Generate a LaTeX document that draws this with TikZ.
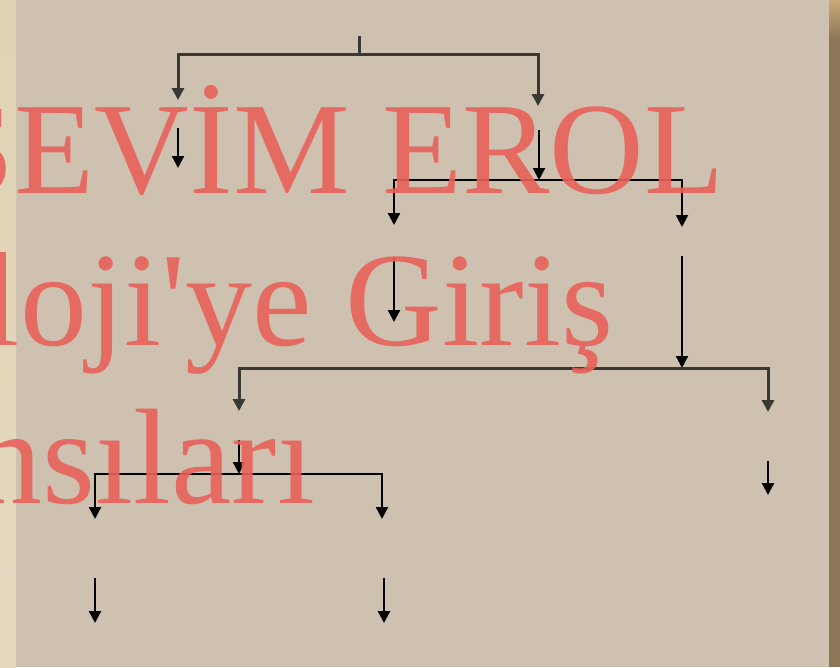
\documentclass[tikz,border=0pt]{standalone}
\usepackage{fontspec}
\setmainfont{Liberation Serif}
\usetikzlibrary{arrows.meta}
\definecolor{slidebg}{HTML}{CEC1B0}
\definecolor{leftedge}{HTML}{E0D3B4}
\definecolor{rightedge}{HTML}{8C7658}
\definecolor{rightedgetop}{HTML}{C8A878}
\definecolor{treegray}{HTML}{3A3835}
\definecolor{titlered}{HTML}{E8615A}
\tikzset{
  thickline/.style={line width=3pt, draw=treegray},
  thinline/.style={line width=2.3pt, draw=black},
  arr/.style={-{Triangle[length=12pt,width=12pt]}},
  titletext/.style={anchor=base west, inner sep=0pt, outer sep=0pt,
    text=titlered, text opacity=0.9}
}
\begin{document}
\begin{tikzpicture}[x=1pt, y=-1pt]
      \useasboundingbox (0,0) rectangle (840,667);
      % slide background and edges
      \fill[slidebg] (0,0) rectangle (840,667);
      \shade[top color=leftedge, bottom color=leftedge!85!white] (0,0) rectangle (16,667);
      \fill[rightedge] (829,0) rectangle (840,667);
      \shade[top color=rightedgetop, bottom color=rightedge] (829,0) rectangle (840,40);
      %
      % level 0
      \coordinate (root) at (359,36);
      \coordinate (j0) at (359,54);
      \coordinate (aTip) at (178,100);
      \coordinate (bTip) at (538,106);
      \draw[thickline] (root) -- (j0);
      \draw[thickline, arr] (j0) -| (aTip);
      \draw[thickline, arr] (j0) -| (bTip);
      \coordinate (aOut) at (178,128);
      \coordinate (aEnd) at (178,168);
      \draw[thinline, arr] (aOut) -- (aEnd);
      \coordinate (bOut) at (539,130);
      \coordinate (j1) at (539,180);
      \draw[thinline, arr] (bOut) -- (j1);
      %
      % level 1
      \coordinate (cTip) at (394,225);
      \coordinate (dTip) at (682,227);
      \draw[thinline, arr] (j1) -| (cTip);
      \draw[thinline, arr] (j1) -| (dTip);
      \coordinate (cOut) at (394,257);
      \coordinate (cEnd) at (394,322);
      \draw[thinline, arr] (cOut) -- (cEnd);
      \coordinate (dOut) at (682,256);
      \coordinate (j2) at (682,368);
      \draw[thinline, arr] (dOut) -- (j2);
      %
      % level 2
      \coordinate (eTip) at (239,411);
      \coordinate (fTip) at (768,412);
      \draw[thickline, arr] (j2) -| (eTip);
      \draw[thickline, arr] (j2) -| (fTip);
      \coordinate (eOut) at (239,440);
      \coordinate (j3) at (239,474);
      \draw[thinline, arr] (eOut) -- (j3);
      \coordinate (fOut) at (768,461);
      \coordinate (fEnd) at (768,495);
      \draw[thinline, arr] (fOut) -- (fEnd);
      %
      % level 3
      \coordinate (gTip) at (95,519);
      \coordinate (hTip) at (382,519);
      \draw[thinline, arr] (j3) -| (gTip);
      \draw[thinline, arr] (j3) -| (hTip);
      \coordinate (gOut) at (95,578);
      \coordinate (gEnd) at (95,623);
      \draw[thinline, arr] (gOut) -- (gEnd);
      \coordinate (hOut) at (384,578);
      \coordinate (hEnd) at (384,623);
      \draw[thinline, arr] (hOut) -- (hEnd);
      %
      % title text left over from the slide
      \node[titletext, font=\fontsize{131}{150}\selectfont] (name) at (-58,193) {SEVİM EROL};
      \node[titletext, font=\fontsize{134}{150}\selectfont] (course) at (-17,345) {loji\textquotesingle ye Giriş};
      \node[titletext, font=\fontsize{136}{150}\selectfont] (notes) at (-25,503) {nsıları};
      %
    \end{tikzpicture}
\end{document}
